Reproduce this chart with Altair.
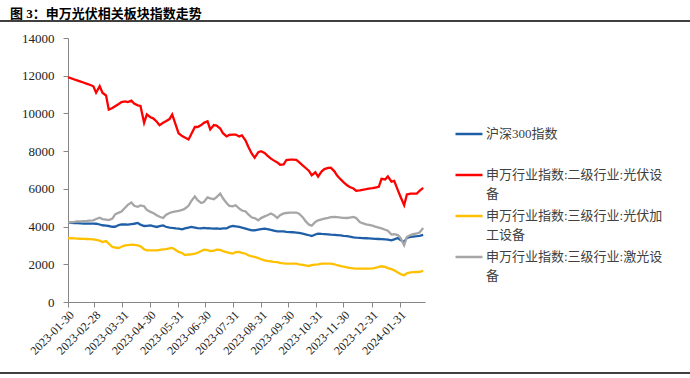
import json
import altair as alt
import pandas as pd

# ---------------- data (Mondays and Thursdays, interleaved) ----------------
dates = [
    "2023-01-30", "2023-02-02", "2023-02-06", "2023-02-09", "2023-02-13", "2023-02-16",
    "2023-02-20", "2023-02-23", "2023-02-27", "2023-03-02", "2023-03-06", "2023-03-09",
    "2023-03-13", "2023-03-16", "2023-03-20", "2023-03-23", "2023-03-27", "2023-03-30",
    "2023-04-03", "2023-04-06", "2023-04-10", "2023-04-13", "2023-04-17", "2023-04-20",
    "2023-04-24", "2023-04-27", "2023-05-01", "2023-05-04", "2023-05-08", "2023-05-11",
    "2023-05-15", "2023-05-18", "2023-05-22", "2023-05-25", "2023-05-29", "2023-06-01",
    "2023-06-05", "2023-06-08", "2023-06-12", "2023-06-15", "2023-06-19", "2023-06-22",
    "2023-06-26", "2023-06-29", "2023-07-03", "2023-07-06", "2023-07-10", "2023-07-13",
    "2023-07-17", "2023-07-20", "2023-07-24", "2023-07-27", "2023-07-31", "2023-08-03",
    "2023-08-07", "2023-08-10", "2023-08-14", "2023-08-17", "2023-08-21", "2023-08-24",
    "2023-08-28", "2023-08-31", "2023-09-04", "2023-09-07", "2023-09-11", "2023-09-14",
    "2023-09-18", "2023-09-21", "2023-09-25", "2023-09-28", "2023-10-02", "2023-10-05",
    "2023-10-09", "2023-10-12", "2023-10-16", "2023-10-19", "2023-10-23", "2023-10-26",
    "2023-10-30", "2023-11-02", "2023-11-06", "2023-11-09", "2023-11-13", "2023-11-16",
    "2023-11-20", "2023-11-23", "2023-11-27", "2023-11-30", "2023-12-04", "2023-12-07",
    "2023-12-11", "2023-12-14", "2023-12-18", "2023-12-21", "2023-12-25", "2023-12-28",
    "2024-01-01", "2024-01-04", "2024-01-08", "2024-01-11", "2024-01-15", "2024-01-18",
    "2024-01-22", "2024-01-25", "2024-01-29", "2024-02-01", "2024-02-05", "2024-02-08",
    "2024-02-12", "2024-02-15", "2024-02-19", "2024-02-22", "2024-02-26",
]

hs300 = [
    4210, 4200, 4190, 4180, 4165, 4160, 4160, 4160, 4160, 4150,
    4110, 4070, 4050, 4030, 3990, 3990, 4080, 4110, 4110, 4100,
    4130, 4150, 4190, 4100, 4030, 4040, 4060, 4020, 3980, 4020,
    4060, 3990, 3950, 3926, 3900, 3894, 3857, 3900, 3950, 3980,
    3950, 3920, 3900, 3930, 3910, 3900, 3890, 3900, 3880, 3900,
    3900, 3980, 4030, 4010, 3980, 3940, 3894, 3850, 3800, 3804,
    3840, 3870, 3894, 3870, 3820, 3790, 3750, 3750, 3740, 3720,
    3710, 3700, 3682, 3660, 3620, 3590, 3540, 3501, 3580, 3628,
    3610, 3600, 3590, 3575, 3560, 3550, 3530, 3510, 3490, 3470,
    3430, 3410, 3400, 3390, 3380, 3370, 3360, 3350, 3340, 3335,
    3326, 3310, 3273, 3320, 3395, 3280, 3183, 3400, 3450, 3470,
    3490, 3510, 3560,
]

pv_equipment = [
    11920, 11870, 11800, 11750, 11690, 11640, 11570, 11520, 11440, 11100,
    11450, 11100, 10950, 10200, 10290, 10380, 10500, 10600, 10640, 10600,
    10680, 10520, 10430, 10400, 9500, 9950, 9800, 9740, 9560, 9380,
    9500, 9580, 9700, 9940, 9380, 8950, 8800, 8720, 8620, 8900,
    9280, 9280, 9380, 9500, 9580, 9150, 9380, 9350, 9200, 8950,
    8780, 8860, 8880, 8880, 8780, 8840, 8560, 8230, 7850, 7650,
    7950, 8000, 7900, 7760, 7600, 7510, 7400, 7280, 7300, 7530,
    7550, 7550, 7540, 7420, 7250, 7120, 6950, 6720, 6880, 6650,
    6930, 7050, 7110, 7120, 6930, 6700, 6500, 6360, 6190, 6100,
    6016, 5900, 5920, 5946, 5980, 6010, 6040, 6070, 6110, 6530,
    6500, 6660, 6380, 6420, 5930, 5580, 5130, 5700, 5750, 5750,
    5750, 5900, 6050,
]

pv_processing = [
    3390, 3380, 3370, 3360, 3355, 3350, 3340, 3330, 3320, 3290,
    3250, 3183, 3230, 3100, 2918, 2890, 2865, 2930, 3000, 3020,
    3045, 3030, 3000, 2950, 2800, 2743, 2743, 2743, 2743, 2760,
    2790, 2800, 2840, 2865, 2760, 2660, 2600, 2490, 2520, 2530,
    2560, 2610, 2700, 2780, 2750, 2700, 2720, 2780, 2760, 2700,
    2640, 2600, 2568, 2650, 2660, 2600, 2560, 2480, 2420, 2390,
    2330, 2270, 2212, 2180, 2150, 2130, 2110, 2080, 2050, 2037,
    2037, 2030, 2030, 2000, 1970, 1940, 1910, 1950, 1984, 1990,
    2030, 2037, 2037, 2030, 2000, 1950, 1900, 1870, 1840, 1810,
    1780, 1772, 1772, 1772, 1772, 1772, 1780, 1810, 1860, 1894,
    1860, 1800, 1740, 1680, 1570, 1480, 1416, 1520, 1570, 1580,
    1590, 1600, 1645,
]

laser = [
    4212, 4230, 4250, 4270, 4280, 4290, 4300, 4320, 4334, 4400,
    4470, 4400, 4371, 4340, 4420, 4650, 4740, 4800, 5000, 5150,
    5273, 5100, 5050, 5120, 5080, 4880, 4780, 4720, 4600, 4520,
    4456, 4620, 4720, 4760, 4800, 4830, 4880, 4950, 5100, 5350,
    5600, 5400, 5250, 5305, 5550, 5500, 5450, 5560, 5750, 5500,
    5250, 5100, 5080, 5130, 4950, 4850, 4800, 4650, 4480, 4450,
    4334, 4450, 4540, 4600, 4690, 4620, 4456, 4600, 4700, 4720,
    4740, 4740, 4743, 4680, 4500, 4300, 4100, 4050, 4244, 4330,
    4380, 4420, 4460, 4500, 4510, 4500, 4480, 4460, 4456, 4480,
    4510, 4450, 4244, 4180, 4120, 4090, 4050, 4000, 3947, 3900,
    3830, 3780, 3575, 3600, 3550, 3400, 3008, 3448, 3550, 3600,
    3640, 3682, 3926,
]

series_names = [
    "沪深300指数",
    "申万行业指数:二级行业:光伏设备",
    "申万行业指数:三级行业:光伏加工设备",
    "申万行业指数:三级行业:激光设备",
]
legend_lines = [
    ["沪深300指数", " "],
    ["申万行业指数:二级行业:光伏设", "备"],
    ["申万行业指数:三级行业:光伏加", "工设备"],
    ["申万行业指数:三级行业:激光设", "备"],
]
series_colors = ["#1F5FA8", "#FF0000", "#FFC000", "#A6A6A6"]

y_ticks = [0, 2000, 4000, 6000, 8000, 10000, 12000, 14000]
x_tick_labels = [
    "2023-01-30", "2023-02-28", "2023-03-31", "2023-04-30", "2023-05-31",
    "2023-06-30", "2023-07-31", "2023-08-31", "2023-09-30", "2023-10-31",
    "2023-11-30", "2023-12-31", "2024-01-31",
]
x_domain = ["2023-01-30", "2024-02-28"]

title_text = "图 3：申万光伏相关板块指数走势"

# ---------------- build ----------------
all_series = [hs300, pv_equipment, pv_processing, laser]
for s in all_series:
    assert len(s) == len(dates), (len(s), len(dates))

rows = []
for name, vals in zip(series_names, all_series):
    for d, v in zip(dates, vals):
        rows.append({"date": d, "value": v, "series": name})
df = pd.DataFrame(rows)


def to_dt(s):
    y, m, d = (int(p) for p in s.split("-"))
    return alt.DateTime(year=y, month=m, date=d, utc=True)


expr = "''"
for name, lines in reversed(list(zip(series_names, legend_lines))):
    expr = f"datum.label == {json.dumps(name, ensure_ascii=False)} ? {json.dumps(lines, ensure_ascii=False)} : ({expr})"

FONT = "'Liberation Serif', 'Noto Sans CJK SC'"

lines_chart = alt.Chart(df).mark_line(strokeWidth=2.3).encode(
    x=alt.X(
        "date:T",
        title=None,
        scale=alt.Scale(type="utc", domain=[to_dt(s) for s in x_domain]),
        axis=alt.Axis(
            values=[to_dt(s) for s in x_tick_labels],
            format="%Y-%m-%d",
            labelAngle=-45,
            labelFont=FONT,
            labelFontSize=12,
            labelColor="#222222",
            tickSize=5,
            tickColor="#868686",
            domainColor="#868686",
            labelPadding=2,
            grid=False,
            labelOverlap=False,
        ),
    ),
    y=alt.Y(
        "value:Q",
        title=None,
        scale=alt.Scale(domain=[0, 14000], nice=False),
        axis=alt.Axis(
            values=y_ticks,
            format="d",
            labelFont=FONT,
            labelFontSize=13,
            labelColor="#222222",
            tickSize=5,
            tickColor="#868686",
            domainColor="#868686",
            labelPadding=9,
            grid=False,
        ),
    ),
    color=alt.Color(
        "series:N",
        scale=alt.Scale(domain=series_names, range=series_colors),
        legend=alt.Legend(
            title=None,
            orient="none",
            legendX=386,
            legendY=81,
            symbolType="stroke",
            symbolSize=729,
            symbolStrokeWidth=2.5,
            labelFont=FONT,
            labelFontSize=13,
            labelColor="#404040",
            labelLimit=400,
            labelOffset=2,
            rowPadding=-2,
            labelExpr=expr,
        ),
    ),
)

rule_df = pd.DataFrame({"k": [0]})
top_rule = alt.Chart(rule_df).mark_rule(color="black", strokeWidth=1.5).encode(
    x=alt.value(-68), x2=alt.value(622), y=alt.value(-17)
)
bottom_rule = alt.Chart(rule_df).mark_rule(color="black", strokeWidth=1.5).encode(
    x=alt.value(-68), x2=alt.value(622), y=alt.value(335)
)

chart = alt.layer(lines_chart, top_rule, bottom_rule).properties(
    width=357,
    height=264,
    autosize=alt.AutoSizeParams(type="none"),
    padding={"left": 68, "top": 38, "right": 265, "bottom": 76},
    title=alt.TitleParams(
        title_text,
        anchor="start",
        frame="group",
        font=FONT,
        fontSize=13,
        fontWeight="bold",
        color="#000000",
        dx=-58,
        dy=11,
        offset=10,
    ),
).configure(
    background="white",
    view=alt.ViewConfig(strokeWidth=0),
    style={"guide-label": {"lineHeight": 19}},
)

chart.save("out.html", embed_options={"renderer": "svg", "actions": False})
